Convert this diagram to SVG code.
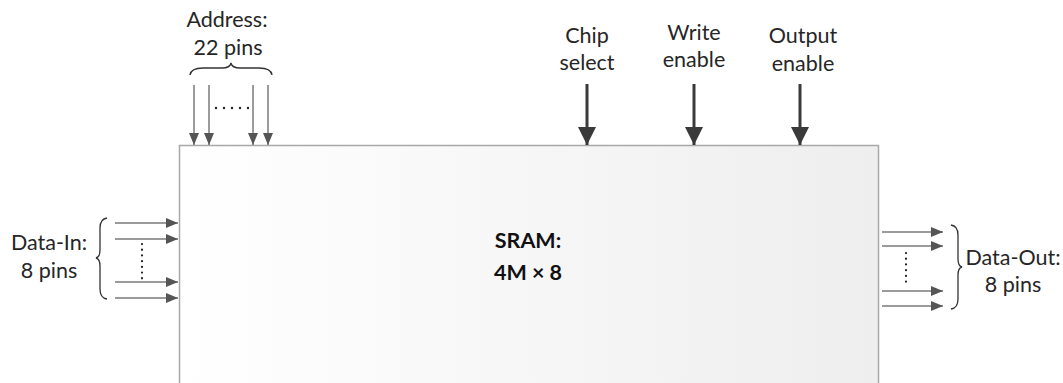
<svg xmlns="http://www.w3.org/2000/svg" width="1063" height="383" viewBox="0 0 1063 383">
<defs>
<linearGradient id="boxg" x1="0" y1="0" x2="1" y2="0">
<stop offset="0" stop-color="#ffffff"/>
<stop offset="1" stop-color="#eeeeee"/>
</linearGradient>
<marker id="thin" viewBox="0 0 12 12" refX="12" refY="6" markerWidth="12" markerHeight="12" markerUnits="userSpaceOnUse" orient="auto">
<path d="M0,1 L12,6 L0,11 Z" fill="#555"/>
</marker>
<marker id="thick" viewBox="0 0 18 20" refX="18" refY="10" markerWidth="18" markerHeight="20" markerUnits="userSpaceOnUse" orient="auto">
<path d="M0,1 L18,10 L0,19 Z" fill="#3a3a3a"/>
</marker>
<style>
text{font-family:Lato,"Open Sans","Liberation Sans",sans-serif;font-size:21.5px;fill:#262626;text-anchor:middle}
.b{font-weight:bold;fill:#111}
.pin{stroke:#7a7a7a;stroke-width:1.5;fill:none;marker-end:url(#thin)}
.ctl{stroke:#3a3a3a;stroke-width:3;fill:none;marker-end:url(#thick)}
.dots{stroke:#222;stroke-width:2.2;stroke-dasharray:0.1 5.6;stroke-linecap:round;fill:none}
.brace{stroke:#333;stroke-width:1.3;fill:none}
.hd{fill:#222}
</style>
</defs>
<g id="sram">
<rect x="179.5" y="145.5" width="699" height="250" fill="url(#boxg)" stroke="#a8a8a8" stroke-width="1.5"/>
<text class="b" x="528" y="248">SRAM:</text>
<text class="b" x="528" y="280">4M × 8</text>
</g>
<g id="address">
<text x="227" y="27">Address:</text>
<text x="228" y="55">22 pins</text>
<path class="brace" d="M190,75 Q191,68 203,68 L222,68 Q230,68 231,63 Q232,68 240,68 L259,68 Q271,68 272,75"/>
<circle class="hd" cx="216" cy="108" r="1.2"/>
<circle class="hd" cx="224" cy="108" r="1.2"/>
<circle class="hd" cx="232" cy="108" r="1.2"/>
<circle class="hd" cx="240" cy="108" r="1.2"/>
<circle class="hd" cx="248" cy="108" r="1.2"/>
</g>
<g id="chip-select">
<text x="587" y="43">Chip</text>
<text x="587" y="70">select</text>
</g>
<g id="write-enable">
<text x="694" y="40">Write</text>
<text x="694" y="67">enable</text>
</g>
<g id="output-enable">
<text x="803" y="43">Output</text>
<text x="803" y="71">enable</text>
</g>
<g id="data-in">
<text x="49" y="250">Data-In:</text>
<text x="49" y="278">8 pins</text>
<path class="brace" d="M107,218 Q100,219 100,228 L100,250 Q100,257 96,258 Q100,259 100,266 L100,289 Q100,298 107,299"/>
<path class="dots" d="M142,244 L142,279"/>
</g>
<g id="data-out">
<text x="1013" y="265">Data-Out:</text>
<text x="1013" y="292">8 pins</text>
<path class="brace" d="M951,225 Q958,226 958,235 L958,259 Q958,266 962,267 Q958,268 958,275 L958,299 Q958,308 951,309"/>
<path class="dots" d="M906,253 L906,287"/>
</g>
<g id="connectors">
<line class="pin" x1="194" y1="85" x2="194" y2="145"/>
<line class="pin" x1="209" y1="85" x2="209" y2="145"/>
<line class="pin" x1="253" y1="85" x2="253" y2="145"/>
<line class="pin" x1="268" y1="85" x2="268" y2="145"/>
<line class="ctl" x1="587" y1="84" x2="587" y2="145"/>
<line class="ctl" x1="694" y1="84" x2="694" y2="145"/>
<line class="ctl" x1="800" y1="84" x2="800" y2="145"/>
<line class="pin" x1="115" y1="223" x2="178" y2="223"/>
<line class="pin" x1="115" y1="239" x2="178" y2="239"/>
<line class="pin" x1="115" y1="282" x2="178" y2="282"/>
<line class="pin" x1="115" y1="298" x2="178" y2="298"/>
<line class="pin" x1="882" y1="232" x2="943" y2="232"/>
<line class="pin" x1="882" y1="246" x2="943" y2="246"/>
<line class="pin" x1="882" y1="291" x2="943" y2="291"/>
<line class="pin" x1="882" y1="306" x2="943" y2="306"/>
</g>
</svg>
